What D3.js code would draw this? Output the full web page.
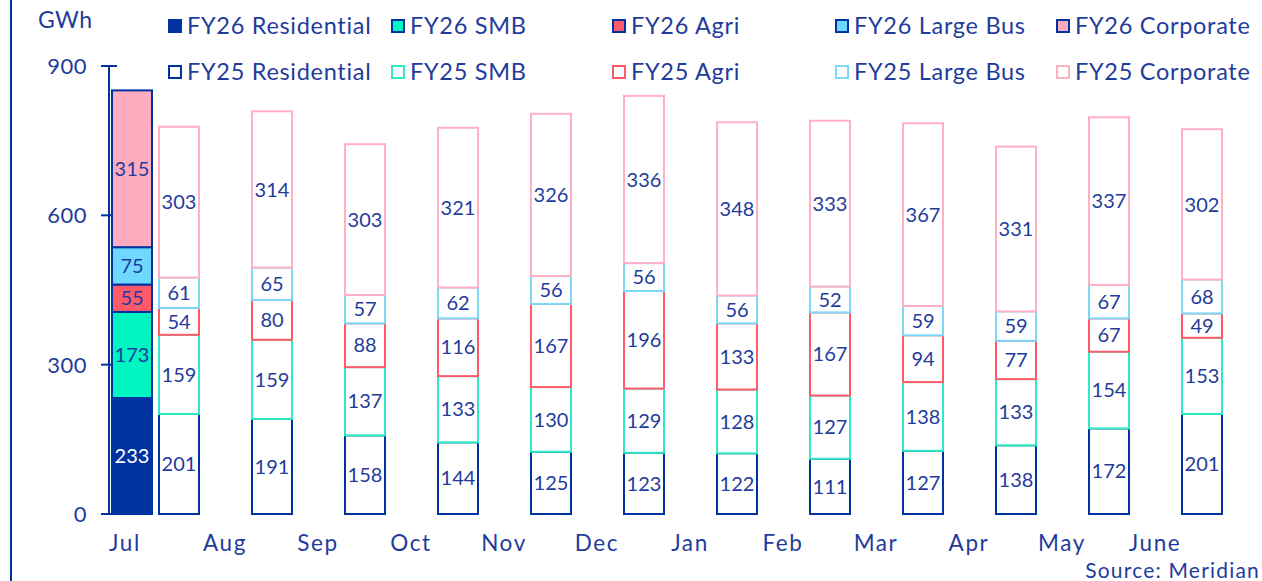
<!DOCTYPE html>
<html lang="en">
<head>
<meta charset="utf-8">
<title>Monthly sales by segment</title>
<script src="https://d3js.org/d3.v7.min.js"></script>
<style>
  body, html { margin: 0; background: #fff; }
  svg { display: block; font-family: "Century Gothic", Lato, sans-serif; }
</style>
</head>
<body>
<svg width="1262" height="581"></svg>
<script>
// data, GWh
var months = ["Jul", "Aug", "Sep", "Oct", "Nov", "Dec", "Jan", "Feb", "Mar", "Apr", "May", "June"];
var segments = ["Residential", "SMB", "Agri", "Large Bus", "Corporate"];
var segColors = ["#0033a0", "#00f5c0", "#ff5a6a", "#6fd8ff", "#ffabbf"];
var fy25Strokes = ["#0033a0", "#2eeac2", "#ff5a6a", "#7dd8f8", "#ffb0c3"];
// FY26 only has July so far
var fy26 = [[233, 173, 55, 75, 315]];
var fy25Residential = [201, 191, 158, 144, 125, 123, 122, 111, 127, 138, 172, 201];
var fy25SMB         = [159, 159, 137, 133, 130, 129, 128, 127, 138, 133, 154, 153];
var fy25Agri        = [54, 80, 88, 116, 167, 196, 133, 167, 94, 77, 67, 49];
var fy25LargeBus    = [61, 65, 57, 62, 56, 56, 56, 52, 59, 59, 67, 68];
var fy25Corporate   = [303, 314, 303, 321, 326, 336, 348, 333, 367, 331, 337, 302];
var yTicks = [0, 300, 600, 900];

var textCol = "#1f3c9c";
var svg = d3.select("svg");

var y = d3.scaleLinear().domain([0, 900]).range([514, 66]);
var x = d3.scaleBand().domain(months).range([85.5, 85.5 + 93 * 12]);
var barW = 40;

function stackRows(vals) {
  var out = [], acc = 0;
  vals.forEach(function(v, i) {
    out.push({ seg: i, v: v, y0: acc, y1: acc + v });
    acc += v;
  });
  return out;
}

// frame line on the left
svg.append("line").attr("x1", 11).attr("x2", 11).attr("y1", 0).attr("y2", 581)
  .attr("stroke", "#0033a0").attr("stroke-width", 2);

// y axis
var yAxis = svg.append("g").attr("transform", "translate(109,0)");
yAxis.append("line").attr("y1", y(900)).attr("y2", y(0))
  .attr("stroke", "#0033a0").attr("stroke-width", 2);
yAxis.selectAll(".tk").data(yTicks).enter().append("line")
  .attr("x1", -8).attr("x2", 8)
  .attr("y1", d => y(d)).attr("y2", d => y(d))
  .attr("stroke", "#0033a0").attr("stroke-width", 2);
yAxis.selectAll(".tl").data(yTicks).enter().append("text")
  .attr("x", -22).attr("y", d => y(d)).attr("dy", "0.36em")
  .attr("text-anchor", "end").attr("font-size", 22).attr("fill", textCol)
  .attr("letter-spacing", 0.5)
  .text(d => d);
svg.append("text").attr("x", 38).attr("y", 28).attr("font-size", 23)
  .attr("fill", textCol).attr("textLength", 54).text("GWh");

// FY25 bars: outline only
var fy25 = months.map(function(m, i) {
  return [fy25Residential[i], fy25SMB[i], fy25Agri[i], fy25LargeBus[i], fy25Corporate[i]];
});
var g25 = svg.selectAll(".fy25").data(fy25).enter().append("g")
  .attr("transform", (d, i) => "translate(" + (x(months[i]) + x.bandwidth() / 2 + 47) + ",0)");
var cells25 = g25.selectAll("g").data(d => stackRows(d)).enter().append("g");
cells25.append("rect")
  .attr("x", -barW / 2).attr("width", barW)
  .attr("y", d => y(d.y1)).attr("height", d => y(d.y0) - y(d.y1))
  .attr("fill", "#fff").attr("stroke", d => fy25Strokes[d.seg]).attr("stroke-width", 2);
cells25.append("text")
  .attr("x", 0).attr("y", d => y((d.y0 + d.y1) / 2)).attr("dy", "0.36em")
  .attr("text-anchor", "middle").attr("font-size", 20).attr("fill", textCol)
  .text(d => d.v);

// FY26 bars: filled
var g26 = svg.selectAll(".fy26").data(fy26).enter().append("g")
  .attr("transform", (d, i) => "translate(" + (x(months[i]) + x.bandwidth() / 2) + ",0)");
var cells26 = g26.selectAll("g").data(d => stackRows(d)).enter().append("g");
cells26.append("rect")
  .attr("x", -barW / 2).attr("width", barW)
  .attr("y", d => y(d.y1)).attr("height", d => y(d.y0) - y(d.y1))
  .attr("fill", d => segColors[d.seg]).attr("stroke", "#0033a0").attr("stroke-width", 2);
cells26.append("text")
  .attr("x", 0).attr("y", d => y((d.y0 + d.y1) / 2)).attr("dy", "0.36em")
  .attr("text-anchor", "middle").attr("font-size", 20)
  .attr("fill", d => d.seg === 0 ? "#fff" : textCol)
  .text(d => d.v);

// month labels
svg.selectAll(".ml").data(months).enter().append("text")
  .attr("x", (d, i) => x(d) + x.bandwidth() / 2 + (i === 0 ? -7 : 0)).attr("y", 551)
  .attr("text-anchor", "middle").attr("font-size", 22.5).attr("fill", textCol)
  .attr("letter-spacing", 1.6)
  .text(d => d);

svg.append("text").attr("x", 1260).attr("y", 578).attr("text-anchor", "end")
  .attr("font-size", 21).attr("fill", textCol).attr("letter-spacing", 1.2)
  .text("Source: Meridian");

// legend
var legX = [168, 391, 612, 835, 1056];
var legend = svg.append("g");
["FY26", "FY25"].forEach(function(fy, r) {
  segments.forEach(function(s, i) {
    var gy = r === 0 ? 26 : 72;
    var lg = legend.append("g").attr("transform", "translate(" + legX[i] + "," + gy + ")");
    lg.append("rect").attr("x", 1).attr("y", -6).attr("width", 12).attr("height", 12)
      .attr("fill", r === 0 ? segColors[i] : "#fff")
      .attr("stroke", r === 0 ? "#0033a0" : fy25Strokes[i]).attr("stroke-width", 2);
    lg.append("text").attr("x", 19).attr("dy", "0.36em")
      .attr("font-size", 23.5).attr("fill", textCol).attr("letter-spacing", 0.7)
      .text(fy + " " + s);
  });
});
</script>
</body>
</html>
